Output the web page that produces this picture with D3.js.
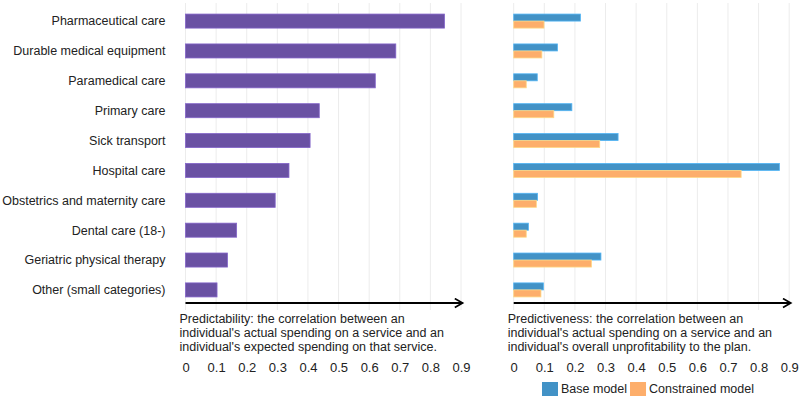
<!DOCTYPE html>
<html><head><meta charset="utf-8">
<script src="https://cdn.jsdelivr.net/npm/d3@7/dist/d3.min.js"></script>
<style>
body{margin:0;background:#fff;}
text{font-family:"Liberation Sans",Arial,sans-serif;fill:#222;}
</style></head><body>
<svg id="chart" width="800" height="402"></svg>
<script>
const categories = ["Pharmaceutical care","Durable medical equipment","Paramedical care","Primary care","Sick transport","Hospital care","Obstetrics and maternity care","Dental care (18-)","Geriatric physical therapy","Other (small categories)"];
const predictability = [0.846,0.687,0.620,0.437,0.407,0.338,0.293,0.167,0.137,0.103];
const baseModel = [0.218,0.143,0.077,0.190,0.341,0.868,0.078,0.048,0.285,0.097];
const constrainedModel = [0.099,0.092,0.041,0.131,0.281,0.743,0.074,0.041,0.254,0.089];
const tickValues = [0,0.1,0.2,0.3,0.4,0.5,0.6,0.7,0.8,0.9];
const seriesNames = ["Base model","Constrained model"];
const leftTitle = ["Predictability: the correlation between an","individual's actual spending on a service and an","individual's expected spending on that service."];
const rightTitle = ["Predictiveness: the correlation between an","individual's actual spending on a service and an","individual's overall unprofitability to the plan."];

const colors = {purple:"#6a51a3", blue:"#4292c6", orange:"#fdae6b"};
const FS = 12.5;
const svg = d3.select("#chart");

svg.append("defs").append("marker")
  .attr("id","arrow").attr("viewBox","0 0 10 10").attr("refX",8).attr("refY",5)
  .attr("markerWidth",5).attr("markerHeight",5).attr("markerUnits","strokeWidth").attr("orient","auto")
  .append("path").attr("d","M1,1 L8,5 L1,9").attr("fill","none").attr("stroke","#000").attr("stroke-width",1.6);

const y = d3.scaleBand().domain(categories).range([6,305]).paddingInner(0.53).paddingOuter(0.27);

function panel(x0, values, colorList, title, withLabels){
  const x = d3.scaleLinear().domain([0,0.9]).range([x0, x0+275.5]);
  const g = svg.append("g");
  g.selectAll("line.grid").data(tickValues).enter().append("line")
    .attr("x1",d=>x(d)).attr("x2",d=>x(d)).attr("y1",3).attr("y2",310)
    .attr("stroke","#ececec").attr("stroke-width",1);
  const nS = values.length;
  const sub = d3.scaleBand().domain(d3.range(nS)).range([0,y.bandwidth()]);
  values.forEach((vals,si)=>{
    g.selectAll(null).data(categories).enter().append("rect")
      .attr("x",x(0)).attr("y",(d)=>y(d)+sub(si))
      .attr("width",(d,i)=>x(vals[i])-x(0)).attr("height",sub.bandwidth())
      .attr("fill",colorList[si])
      .attr("stroke",d3.color(colorList[si]).brighter(0.6)).attr("stroke-width",0.8);
  });
  g.append("line").attr("x1",x(0)).attr("x2",x(0.9)+1.5).attr("y1",303).attr("y2",303)
    .attr("stroke","#000").attr("stroke-width",2.2).attr("marker-end","url(#arrow)");
  const t = g.append("text").attr("x",x(0)-6).attr("y",323).attr("font-size",FS);
  title.forEach((line,i)=>t.append("tspan").attr("x",x(0)-6).attr("dy",i?14:0).text(line));
  const axis = d3.axisBottom(x).tickValues(tickValues).tickFormat(d=>d===0?"0":d3.format(".1f")(d)).tickSize(0).tickPadding(0);
  const ag = g.append("g").attr("transform","translate(0,363)").call(axis);
  ag.select(".domain").remove();
  ag.selectAll("text").attr("font-size",FS+0.5).attr("fill","#222").attr("font-family","Liberation Sans, Arial, sans-serif");
  if(withLabels){
    g.selectAll(null).data(categories).enter().append("text")
      .attr("x",x(0)-20).attr("y",d=>y(d)+y.bandwidth()/2).attr("dy","0.35em")
      .attr("text-anchor","end").attr("font-size",FS).text(d=>d);
  }
  return x;
}

panel(185.5, [predictability], [colors.purple], leftTitle, true);
panel(513.7, [baseModel, constrainedModel], [colors.blue, colors.orange], rightTitle, false);

const leg = svg.append("g").attr("transform","translate(542,382)");
let lx = 0;
seriesNames.forEach((n,i)=>{
  const c = i===0?colors.blue:colors.orange;
  leg.append("rect").attr("x",lx).attr("y",0).attr("width",16).attr("height",14).attr("fill",c);
  const tx = leg.append("text").attr("x",lx+19).attr("y",7).attr("dy","0.35em").attr("font-size",FS).text(n);
  lx += 19 + tx.node().getComputedTextLength() + 3;
});
</script>
</body></html>
